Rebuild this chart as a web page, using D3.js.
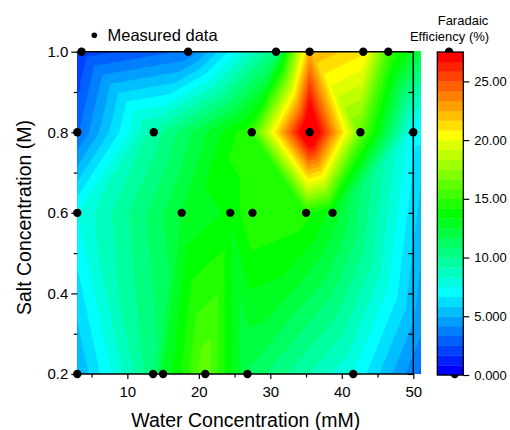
<!DOCTYPE html>
<html><head><meta charset="utf-8">
<script src="https://cdn.jsdelivr.net/npm/d3@7"></script>
<style>
body{margin:0;background:#fff}
svg{display:block}
text{font-family:Arial,"Liberation Sans",sans-serif;fill:#000}
</style>
</head><body>
<svg id="chart" width="510" height="430"></svg>
<script>
// Measured points: water concentration (mM), salt concentration (M), Faradaic efficiency (%)
const waterConc  = [3.6, 18.5, 30.8, 35.5, 43.0, 46.5, 55.0,
                    3.0, 13.7, 27.4, 35.5, 42.6, 50.0,
                    3.0, 17.6, 24.4, 27.5, 35.0, 38.7,
                    3.0, 13.6, 15.0, 20.9, 26.8, 41.6, 55.8];
const saltConc   = [1.0, 1.0, 1.0, 1.0, 1.0, 1.0, 1.0,
                    0.8, 0.8, 0.8, 0.8, 0.8, 0.8,
                    0.6, 0.6, 0.6, 0.6, 0.6, 0.6,
                    0.2, 0.2, 0.2, 0.2, 0.2, 0.2, 0.2];
const efficiency = [2.0, 3.5, 10.5, 22.5, 21.0, 15.5, 9.0,
                    3.2, 9.5, 15.0, 29.5, 16.5, 7.0,
                    7.5, 12.5, 13.5, 15.0, 14.5, 13.0,
                    5.0, 10.5, 12.5, 16.5, 11.5, 7.5, 1.0];

const xTicks = [10, 20, 30, 40, 50];
const xMinorTicks = [5, 15, 25, 35, 45];
const yTicks = [0.2, 0.4, 0.6, 0.8, 1.0];
const yMinorTicks = [0.3, 0.5, 0.7, 0.9];
const barTicks = [0, 5, 10, 15, 20, 25];
const barTickLabels = ["0.000", "5.000", "10.00", "15.00", "20.00", "25.00"];
const levelMin = 0, levelMax = 27.5, levelCount = 33;
const paletteStops = ["#0000ff", "#00ffff", "#00ff00", "#ffff00", "#ff0000"];

const svg = d3.select("#chart");

const x = d3.scaleLinear().domain([3, 50]).range([77.3, 413.3]);
const y = d3.scaleLinear().domain([0.2, 1.0]).range([374, 51.7]);

// contour levels and their colours
const levels = d3.range(levelCount + 1).map(i => levelMin + i * (levelMax - levelMin) / levelCount);
const palette = d3.scaleLinear().domain([0, 0.25, 0.5, 0.75, 1]).range(paletteStops).interpolate(d3.interpolateRgb);
const bandColor = k => palette(k / (levelCount - 1));

// ---- interpolated surface on a pixel grid (linear on a Delaunay triangulation) ----
const pts = waterConc.map((w, i) => [x(w), y(saltConc[i])]);
const delaunay = d3.Delaunay.from(pts);
const gx0 = 76, gy0 = 50;
const gw = 348, gh = 326;
const grid = new Float64Array(gw * gh).fill(NaN);
const tri = delaunay.triangles;
for (let t = 0; t < tri.length; t += 3) {
  const a = tri[t], b = tri[t + 1], c = tri[t + 2];
  const [ax, ay] = pts[a], [bx, by] = pts[b], [cx, cy] = pts[c];
  const det = (by - cy) * (ax - cx) + (cx - bx) * (ay - cy);
  if (Math.abs(det) < 1e-9) continue;
  const i0 = Math.max(0, Math.floor(Math.min(ax, bx, cx) - gx0 - 1));
  const i1 = Math.min(gw - 1, Math.ceil(Math.max(ax, bx, cx) - gx0 + 1));
  const j0 = Math.max(0, Math.floor(Math.min(ay, by, cy) - gy0 - 1));
  const j1 = Math.min(gh - 1, Math.ceil(Math.max(ay, by, cy) - gy0 + 1));
  for (let j = j0; j <= j1; j++) {
    const py = gy0 + j + 0.5;
    for (let i = i0; i <= i1; i++) {
      const px = gx0 + i + 0.5;
      const l1 = ((by - cy) * (px - cx) + (cx - bx) * (py - cy)) / det;
      const l2 = ((cy - ay) * (px - cx) + (ax - cx) * (py - cy)) / det;
      const l3 = 1 - l1 - l2;
      if (l1 >= -1e-6 && l2 >= -1e-6 && l3 >= -1e-6) {
        grid[j * gw + i] = l1 * efficiency[a] + l2 * efficiency[b] + l3 * efficiency[c];
      }
    }
  }
}
// outside the hull: nearest measured value
for (let j = 0; j < gh; j++) for (let i = 0; i < gw; i++) {
  const k = j * gw + i;
  if (isNaN(grid[k])) grid[k] = efficiency[delaunay.find(gx0 + i + 0.5, gy0 + j + 0.5)];
}

const contours = d3.contours().size([gw, gh]).thresholds(levels.slice(0, levelCount))(Array.from(grid));

const defs = svg.append("defs");
defs.append("clipPath").attr("id", "plotClip").append("rect")
  .attr("x", x(3)).attr("y", y(1.0))
  .attr("width", x(51.05) - x(3)).attr("height", y(0.2) - y(1.0));

svg.append("g").attr("clip-path", "url(#plotClip)")
  .append("g").attr("transform", `translate(${gx0},${gy0})`)
  .selectAll("path").data(contours).join("path")
  .attr("d", d3.geoPath())
  .attr("fill", (d, i) => bandColor(i))
  .attr("stroke", (d, i) => bandColor(i))
  .attr("stroke-width", 0.3);

// ---- axes ----
const axisG = svg.append("g");
const styleAxis = g => {
  g.select(".domain").remove();
  g.selectAll(".tick line").attr("stroke", "#000").attr("stroke-width", 1.2);
  g.selectAll("text").style("font-size", "15px").attr("fill", "#000");
};
axisG.append("g").attr("transform", `translate(0,${y(0.2)})`)
  .call(d3.axisBottom(x).tickValues(xTicks).tickSize(5).tickPadding(7).tickFormat(d3.format("d")))
  .call(styleAxis);
axisG.append("g").attr("transform", `translate(0,${y(0.2)})`)
  .call(d3.axisBottom(x).tickValues(xMinorTicks).tickSize(3.5).tickFormat(""))
  .call(styleAxis);
axisG.append("g").attr("transform", `translate(${x(3)},0)`)
  .call(d3.axisLeft(y).tickValues(yTicks).tickSize(6).tickPadding(3).tickFormat(d3.format(".1f")))
  .call(styleAxis);
axisG.append("g").attr("transform", `translate(${x(3)},0)`)
  .call(d3.axisLeft(y).tickValues(yMinorTicks).tickSize(3.5).tickFormat(""))
  .call(styleAxis);
axisG.append("g").attr("transform", `translate(${x(50)},0)`)
  .call(d3.axisRight(y).tickValues(yTicks.concat(yMinorTicks)).tickSize(-5).tickFormat(""))
  .call(styleAxis);

// frame lines
const frame = [[[3, 0.2], [50, 0.2]], [[3, 1.0], [50, 1.0]], [[50, 0.2], [50, 1.0]]];
svg.append("g").selectAll("line").data(frame).join("line")
  .attr("x1", d => x(d[0][0])).attr("y1", d => y(d[0][1]))
  .attr("x2", d => x(d[1][0])).attr("y2", d => y(d[1][1]))
  .attr("stroke", "#000").attr("stroke-width", 1.5).attr("stroke-linecap", "square");

// measured points
svg.append("g").selectAll("circle").data(pts).join("circle")
  .attr("cx", d => d[0]).attr("cy", d => d[1]).attr("r", 4.2).attr("fill", "#000");

// axis titles
svg.append("text").attr("x", (x(3) + x(50)) / 2 + 0.5).attr("y", 427)
  .attr("text-anchor", "middle").style("font-size", "19.5px").text("Water Concentration (mM)");
svg.append("text").attr("transform", "translate(31,217.5) rotate(-90)")
  .attr("text-anchor", "middle").style("font-size", "19.5px").text("Salt Concentration (M)");

// legend
svg.append("circle").attr("cx", 94.3).attr("cy", 35.3).attr("r", 2.8).attr("fill", "#000");
svg.append("text").attr("x", 107.5).attr("y", 40.7).style("font-size", "16.5px").text("Measured data");

// ---- colour bar ----
const cb = d3.scaleLinear().domain([levelMin, levelMax]).range([375, 52]);
const cbX = 437.3, cbW = 26;
const cbG = svg.append("g");
cbG.selectAll("rect.band").data(d3.range(levelCount)).join("rect").attr("class", "band")
  .attr("x", cbX).attr("width", cbW)
  .attr("y", k => cb(levels[k + 1])).attr("height", k => cb(levels[k]) - cb(levels[k + 1]) + 0.3)
  .attr("fill", k => bandColor(k));
cbG.append("rect").attr("x", cbX).attr("y", cb(levelMax)).attr("width", cbW)
  .attr("height", cb(levelMin) - cb(levelMax)).attr("fill", "none").attr("stroke", "#000").attr("stroke-width", 1.3);
const cbAxis = cbG.append("g").attr("transform", `translate(${cbX + cbW},0)`)
  .call(d3.axisRight(cb).tickValues(barTicks).tickSize(6).tickPadding(5).tickFormat((d, i) => barTickLabels[i]));
cbAxis.select(".domain").remove();
cbAxis.selectAll(".tick line").attr("stroke", "#000").attr("stroke-width", 1.2);
cbAxis.selectAll("text").style("font-size", "13px").attr("fill", "#000");

svg.append("text").attr("x", 463).attr("y", 25).attr("text-anchor", "middle").style("font-size", "13px").text("Faradaic");
svg.append("text").attr("x", 449.5).attr("y", 41).attr("text-anchor", "middle").style("font-size", "13px").text("Efficiency (%)");
</script>
</body></html>
